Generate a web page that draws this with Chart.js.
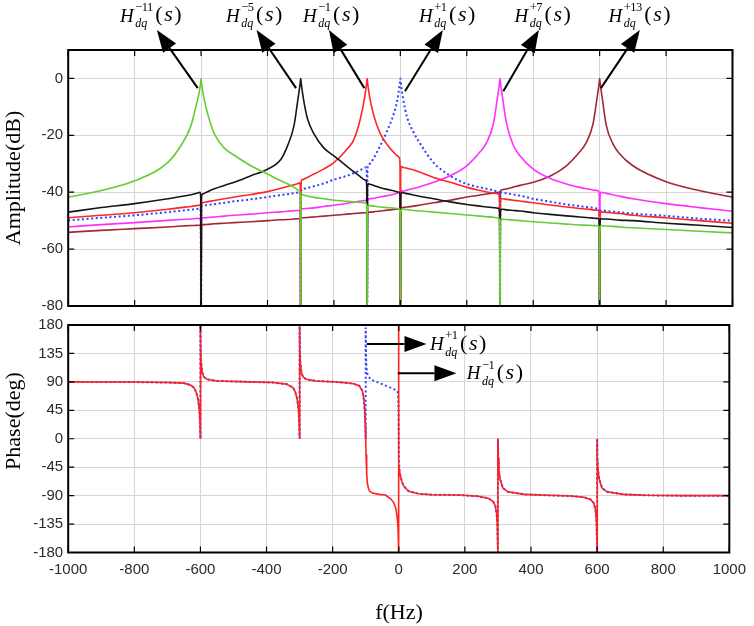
<!DOCTYPE html>
<html>
<head>
<meta charset="utf-8">
<script src="https://cdn.jsdelivr.net/npm/chart.js@4.4.1/dist/chart.umd.min.js"></script>
<style>
html, body { margin: 0; padding: 0; background: #fff; }
#wrap { position: relative; width: 754px; height: 626px; overflow: hidden; background: #fff; }
canvas { position: absolute; left: 0; }
#ampCanvas { top: 0; }
#phaseCanvas { top: 310px; }
.axt { position: absolute; font-family: 'Liberation Serif', 'Times New Roman', serif; font-size: 22px; line-height: 1; color: #000; white-space: nowrap; transform: translate(-50%, -50%); }
.axt.rot { transform: translate(-50%, -50%) rotate(-90deg); }
.lab { position: absolute; display: flex; align-items: flex-start; font-family: 'Liberation Serif', 'Times New Roman', serif; color: #000; line-height: 1; white-space: nowrap; }
.lab .h { font-size: 19px; font-style: italic; margin-top: 5.8px; }
.lab .st { display: flex; flex-direction: column; margin-left: 1.5px; }
.lab .sp { font-size: 12.5px; line-height: 1; margin-top: 1.2px; letter-spacing: -0.5px; }
.lab .sb { font-size: 12px; font-style: italic; line-height: 1; margin-top: 3.8px; }
.lab .pr { font-size: 22px; margin-top: 3.3px; margin-left: 2.5px; }
.lab .pr i { padding: 0 1.5px; }
</style>
</head>
<body>
<div id="wrap">
  <canvas id="ampCanvas" width="754" height="320"></canvas>
  <canvas id="phaseCanvas" width="754" height="316"></canvas>
  <div class="axt rot" style="left:12.6px; top:178px;">Amplitude(dB)</div>
  <div class="axt rot" style="left:12.6px; top:421px;">Phase(deg)</div>
  <div class="axt" style="left:399px; top:612px;">f(Hz)</div>
</div>
<script>
// frequency axis shared by the six amplitude curves
const freq = [
  -1000, -900, -800, -700, -660, -630, -620, -608, -603, -601,
  -600, -599, -597, -592, -580, -560, -530, -500, -450, -400,
  -360, -340, -320, -308, -303, -301, -300, -299, -297, -292,
  -280, -260, -230, -200, -160, -140, -120, -108, -103, -101,
  -100, -99, -97, -92, -80, -60, -40, -20, -8, -3,
  -1, 0, 1, 3, 8, 20, 40, 60, 100, 150,
  200, 240, 260, 280, 292, 297, 299, 300, 301, 303,
  308, 320, 340, 360, 400, 450, 500, 540, 560, 580,
  592, 597, 599, 600, 601, 603, 608, 620, 640, 660,
  700, 800, 900, 1000
];

// H_dq^-11 (peak at -600 Hz)
const ampGreen = [
  -41.7, -39.4, -36.0, -29.5, -23.5, -16.5, -12.0, -6.2, -3.0, -1.0,
  0, -1.0, -3.0, -6.5, -12.5, -19.5, -24.5, -27.0, -30.7, -33.6,
  -36.0, -37.0, -38.3, -39.2, -39.6, -42.0, -95, -43.0, -40.8, -41.0,
  -41.3, -41.8, -42.3, -42.8, -43.2, -43.4, -43.6, -43.7, -43.8, -46.0,
  -95, -46.5, -44.6, -44.7, -44.9, -45.2, -45.4, -45.6, -45.7, -45.8,
  -48.0, -95, -48.0, -45.9, -46.0, -46.1, -46.4, -46.6, -47.0, -47.5,
  -48.0, -48.4, -48.6, -48.8, -49.0, -49.1, -51.0, -95, -52.0, -49.5,
  -49.5, -49.6, -49.8, -50.0, -50.4, -50.8, -51.2, -51.5, -51.6, -51.7,
  -51.8, -51.8, -54.0, -95, -54.0, -51.8, -51.8, -51.9, -52.0, -52.2,
  -52.5, -53.1, -53.7, -54.3
];
// H_dq^-5 (peak at -300 Hz)
const ampBlack = [
  -47.0, -45.4, -44.0, -42.3, -41.5, -40.9, -40.6, -40.2, -40.0, -42.0,
  -95, -44.0, -40.8, -40.5, -39.8, -38.8, -37.6, -36.5, -34.2, -31.9,
  -28.5, -23.8, -16.5, -7.0, -3.0, -1.0, 0, -1.0, -3.0, -7.0,
  -14.0, -19.5, -24.5, -27.2, -31.0, -32.8, -34.6, -35.6, -36.0, -38.5,
  -95, -39.0, -37.0, -37.2, -37.6, -38.4, -39.0, -39.5, -39.9, -40.0,
  -42.0, -95, -42.0, -40.1, -40.2, -40.5, -41.0, -41.5, -42.3, -43.4,
  -44.3, -44.9, -45.2, -45.4, -45.6, -45.7, -48.0, -95, -48.5, -46.0,
  -46.0, -46.2, -46.4, -46.6, -47.2, -47.8, -48.3, -48.7, -48.9, -49.1,
  -49.2, -49.3, -51.5, -95, -51.5, -49.3, -49.4, -49.4, -49.6, -49.8,
  -50.0, -50.9, -51.6, -52.4
];
// H_dq^-1 (peak at -100 Hz)
const ampRed = [
  -49.0, -48.1, -47.2, -46.0, -45.4, -45.0, -44.8, -44.6, -44.5, -46.5,
  -95, -46.0, -43.7, -43.6, -43.3, -42.9, -42.3, -41.7, -40.8, -39.8,
  -38.6, -38.0, -37.4, -36.9, -36.7, -38.5, -95, -38.0, -35.7, -35.5,
  -34.8, -33.6, -31.8, -29.6, -24.8, -21.5, -14.0, -7.0, -3.0, -1.0,
  0, -1.0, -3.0, -6.8, -13.0, -19.5, -23.2, -26.0, -27.3, -27.8,
  -30.0, -95, -33.0, -31.0, -31.2, -31.6, -32.2, -33.0, -34.8, -36.5,
  -38.3, -39.4, -39.9, -40.3, -40.5, -40.6, -43.0, -95, -44.0, -42.3,
  -42.3, -42.5, -42.8, -43.1, -43.7, -44.5, -45.2, -45.7, -45.9, -46.2,
  -46.3, -46.4, -48.5, -95, -49.0, -47.0, -47.0, -47.1, -47.3, -47.5,
  -48.1, -49.0, -50.0, -50.9
];
// H_dq^+1 (peak at 0 Hz)
const ampBlue = [
  -49.9, -49.0, -48.1, -47.0, -46.5, -46.1, -46.0, -45.8, -45.7, -47.5,
  -95, -47.0, -44.8, -44.7, -44.5, -44.2, -43.7, -43.2, -42.5, -41.7,
  -41.0, -40.7, -40.3, -40.1, -40.0, -42.0, -95, -41.0, -38.9, -38.8,
  -38.5, -37.9, -36.9, -35.6, -34.2, -33.3, -32.2, -31.5, -31.2, -33.0,
  -95, -32.5, -30.6, -30.0, -28.0, -23.5, -18.5, -12.5, -7.0, -3.0,
  -1.0, 0, -1.0, -3.0, -7.0, -13.5, -19.0, -23.0, -29.6, -34.2,
  -37.1, -38.3, -38.8, -39.3, -39.7, -39.8, -42.0, -95, -42.5, -40.0,
  -40.1, -40.4, -40.8, -41.2, -42.3, -43.3, -44.3, -44.9, -45.2, -45.5,
  -45.7, -45.8, -48.0, -95, -48.5, -46.4, -46.4, -46.6, -46.8, -47.0,
  -47.5, -48.3, -49.3, -50.0
];
// H_dq^+7 (peak at 300 Hz)
const ampMagenta = [
  -52.2, -51.4, -50.7, -49.9, -49.6, -49.4, -49.3, -49.2, -49.2, -51.0,
  -95, -51.0, -49.0, -49.0, -48.9, -48.7, -48.4, -48.1, -47.7, -47.2,
  -46.9, -46.7, -46.5, -46.4, -46.4, -48.0, -95, -48.0, -45.9, -45.8,
  -45.7, -45.5, -45.0, -44.6, -43.9, -43.5, -43.1, -42.9, -42.8, -44.5,
  -95, -44.5, -42.4, -42.3, -42.1, -41.7, -41.2, -40.7, -40.3, -40.1,
  -42.0, -95, -41.5, -39.6, -39.6, -39.2, -38.7, -38.0, -36.5, -34.2,
  -30.7, -25.8, -22.5, -16.0, -7.0, -3.0, -1.0, 0, -1.0, -3.0,
  -7.0, -16.0, -23.5, -27.2, -31.9, -35.1, -37.1, -38.3, -38.8, -39.2,
  -39.4, -39.5, -42.0, -95, -42.0, -40.0, -40.1, -40.4, -40.9, -41.4,
  -42.3, -44.0, -45.4, -46.7
];
// H_dq^+13 (peak at 600 Hz)
const ampBrown = [
  -54.1, -53.4, -52.8, -52.2, -51.9, -51.7, -51.7, -51.6, -51.6, -53.5,
  -95, -53.5, -51.4, -51.4, -51.3, -51.1, -50.9, -50.7, -50.4, -50.0,
  -49.7, -49.6, -49.4, -49.3, -49.3, -51.0, -95, -51.0, -49.0, -49.0,
  -48.9, -48.7, -48.4, -48.1, -47.7, -47.5, -47.3, -47.2, -47.2, -49.0,
  -95, -49.0, -47.0, -47.0, -46.9, -46.6, -46.3, -46.1, -45.9, -45.8,
  -47.5, -95, -47.5, -45.5, -45.4, -45.2, -44.9, -44.5, -43.7, -42.8,
  -41.7, -41.0, -40.6, -40.3, -40.1, -40.0, -42.0, -95, -41.5, -39.2,
  -39.1, -38.8, -38.2, -37.6, -36.5, -34.4, -30.7, -25.8, -22.5, -16.0,
  -7.0, -3.0, -1.0, 0, -1.0, -3.0, -7.0, -16.5, -23.0, -26.5,
  -30.7, -36.3, -39.4, -41.7
];

// phase of H_dq^-1 (solid red)
const phaseFreqRed = [
  -1000, -800, -700, -650, -630, -620, -613, -607, -603, -601,
  -600, -600, -599, -598, -595, -590, -580, -550, -450, -380,
  -340, -320, -313, -307, -303, -301, -300, -300, -299, -298,
  -295, -290, -280, -250, -180, -140, -120, -110, -106, -103,
  -101, -100, -99, -97, -95, -92, -88, -80, -60, -40,
  -25, -15, -8, -4, -2, -1, 0, 0, 0, 2,
  5, 10, 15, 30, 60, 100, 180, 240, 270, 285,
  292, 296, 298, 299.5, 300, 300, 301, 303, 306, 315,
  330, 380, 450, 520, 560, 580, 590, 595, 598, 599.5,
  600, 600, 601, 603, 606, 615, 630, 680, 750, 850,
  1000
];
const phaseRed = [
  90, 89.7, 89, 88, 85, 81, 74, 62, 45, 22,
  0, 180, 145, 122, 106, 98, 94, 91.5, 90, 89,
  86.5, 81, 74, 62, 45, 22, 0, 178, 145, 122,
  106, 98, 94, 91.5, 89.5, 87.5, 84, 76, 64, 45,
  20, 0, -25, -55, -70, -78, -83, -86, -88, -89,
  -95, -101, -112, -128, -145, -160, -180, 180, -40, -50,
  -59, -69, -75, -83, -87, -88.5, -89, -91, -94, -99,
  -106, -118, -135, -165, -180, 0, -30, -50, -63, -78,
  -84, -88, -89.5, -90.5, -92.5, -96, -102, -112, -130, -160,
  -180, 0, -30, -50, -63, -78, -84, -88, -89.5, -90,
  -90
];
// phase of H_dq^+1 (dotted blue)
const phaseFreqBlue = [
  -1000, -800, -700, -650, -630, -620, -613, -607, -603, -601,
  -600, -600, -599, -598, -595, -590, -580, -550, -450, -380,
  -340, -320, -313, -307, -303, -301, -300, -300, -299, -298,
  -295, -290, -280, -250, -180, -140, -120, -110, -106, -103,
  -101, -100, -100, -99.5, -99, -98, -96, -92, -85, -75,
  -60, -40, -25, -15, -8, -4, -2, -1, -0.5, 0,
  0.5, 2, 5, 10, 15, 30, 60, 100, 180, 240,
  270, 285, 292, 296, 298, 299.5, 300, 300, 301, 303,
  306, 315, 330, 380, 450, 520, 560, 580, 590, 595,
  598, 599.5, 600, 600, 601, 603, 606, 615, 630, 680,
  750, 850, 1000
];
const phaseBlue = [
  90, 89.7, 89, 88, 85, 81, 74, 62, 45, 22,
  0, 180, 145, 122, 106, 98, 94, 91.5, 90, 89,
  86.5, 81, 74, 62, 45, 22, 0, 178, 145, 122,
  106, 98, 94, 91.5, 89.5, 87.5, 84, 76, 64, 45,
  20, 0, 176, 150, 130, 115, 104, 99, 94, 91.5,
  88.5, 84, 81, 78.5, 77, 75, 70, 55, 35, 0,
  -30, -50, -59, -69, -75, -83, -87, -88.5, -89, -91,
  -94, -99, -106, -118, -135, -165, -180, 0, -30, -50,
  -63, -78, -84, -88, -89.5, -90.5, -92.5, -96, -102, -112,
  -130, -160, -180, 0, -30, -50, -63, -78, -84, -88,
  -89.5, -90, -90
];

const freqTicks = [-1000, -800, -600, -400, -200, 0, 200, 400, 600, 800, 1000];
const ampTicks = [-80, -60, -40, -20, 0];
const phaseTicks = [-180, -135, -90, -45, 0, 45, 90, 135, 180];

// annotation arrows: [freq, value] at the tail and at the head
const ampArrows = [
  [[-610, -3.4], [-733, 17]],
  [[-314, -3.4], [-433, 17]],
  [[-108.5, -3.4], [-215, 17]],
  [[14, -4.5], [128, 17]],
  [[310, -4.5], [417, 17]],
  [[604, -3.4], [721, 17]]
];
const phaseArrows = [
  [[-96.5, 150], [84, 150]],
  [[-3, 103.6], [174.5, 103.6]]
];

const pts = (xs, ys) => xs.map((x, i) => ({ x: x, y: ys[i] }));

function frameTicks(chart) {
  const { ctx, chartArea: a, scales: { x, y } } = chart;
  ctx.save();
  ctx.strokeStyle = '#000';
  ctx.lineWidth = 1.2;
  ctx.beginPath();
  x.ticks.forEach(t => {
    const px = x.getPixelForValue(t.value);
    ctx.moveTo(px, a.top); ctx.lineTo(px, a.top + 6);
    ctx.moveTo(px, a.bottom); ctx.lineTo(px, a.bottom - 6);
  });
  y.ticks.forEach(t => {
    const py = y.getPixelForValue(t.value);
    ctx.moveTo(a.left, py); ctx.lineTo(a.left + 6, py);
    ctx.moveTo(a.right, py); ctx.lineTo(a.right - 6, py);
  });
  ctx.stroke();
  ctx.lineWidth = 2;
  ctx.strokeRect(a.left, a.top, a.right - a.left, a.bottom - a.top);
  ctx.restore();
}

function drawArrows(chart, list) {
  const { ctx, scales: { x, y } } = chart;
  list.forEach(([from, to]) => {
    const x0 = x.getPixelForValue(from[0]), y0 = y.getPixelForValue(from[1]);
    const x1 = x.getPixelForValue(to[0]), y1 = y.getPixelForValue(to[1]);
    const ang = Math.atan2(y1 - y0, x1 - x0);
    const L = 22, W = 8;
    const bx = x1 - L * Math.cos(ang), by = y1 - L * Math.sin(ang);
    ctx.save();
    ctx.strokeStyle = '#000';
    ctx.fillStyle = '#000';
    ctx.lineWidth = 2;
    ctx.beginPath(); ctx.moveTo(x0, y0); ctx.lineTo(bx, by); ctx.stroke();
    ctx.beginPath();
    ctx.moveTo(x1, y1);
    ctx.lineTo(bx + W * Math.sin(ang), by - W * Math.cos(ang));
    ctx.lineTo(bx - W * Math.sin(ang), by + W * Math.cos(ang));
    ctx.closePath();
    ctx.fill();
    ctx.restore();
  });
}

const gridCfg = { color: '#d6d6d6', lineWidth: 1, drawTicks: false };
const tickFont = { family: "'Liberation Sans', Arial, sans-serif", size: 15 };

function lineSet(data, color, dotted, smooth) {
  return {
    data: data,
    borderColor: color,
    borderWidth: dotted ? 2 : 1.6,
    borderDash: dotted ? [2, 2.6] : [],
    pointRadius: 0,
    tension: 0,
    cubicInterpolationMode: smooth ? 'monotone' : 'default',
    fill: false,
    clip: 0
  };
}

new Chart(document.getElementById('ampCanvas'), {
  type: 'line',
  data: {
    datasets: [
      lineSet(pts(freq, ampGreen), '#66cc33', false, true),
      lineSet(pts(freq, ampBlack), '#161616', false, true),
      lineSet(pts(freq, ampRed), '#ff2626', false, true),
      lineSet(pts(freq, ampBlue), '#2f3fff', true, true),
      lineSet(pts(freq, ampMagenta), '#ff30ff', false, true),
      lineSet(pts(freq, ampBrown), '#a02838', false, true)
    ]
  },
  options: {
    responsive: false,
    animation: false,
    layout: { padding: { top: 50, right: 21.5, bottom: 12, left: 0 } },
    plugins: { legend: { display: false }, tooltip: { enabled: false } },
    scales: {
      x: {
        type: 'linear', min: -1000, max: 1000,
        afterBuildTicks: s => { s.ticks = freqTicks.map(v => ({ value: v })); },
        afterFit: s => { s.height = 0; },
        ticks: { display: false },
        grid: gridCfg,
        border: { display: false }
      },
      y: {
        min: -80, max: 10,
        afterBuildTicks: s => { s.ticks = ampTicks.map(v => ({ value: v })); },
        afterFit: s => { s.width = 68.2; },
        ticks: { font: tickFont, color: '#2b2b2b', padding: 5, callback: v => String(v) },
        grid: gridCfg,
        border: { display: false }
      }
    }
  },
  plugins: [{
    id: 'ampDeco',
    afterDatasetsDraw(chart) { frameTicks(chart); },
    afterDraw(chart) { drawArrows(chart, ampArrows); }
  }]
});

new Chart(document.getElementById('phaseCanvas'), {
  type: 'line',
  data: {
    datasets: [
      lineSet(pts(phaseFreqRed, phaseRed), '#ff2020', false, false),
      lineSet(pts(phaseFreqBlue, phaseBlue), '#2f3fff', true, false)
    ]
  },
  options: {
    responsive: false,
    animation: false,
    layout: { padding: { top: 15, right: 21.5, bottom: 0, left: 0 } },
    plugins: { legend: { display: false }, tooltip: { enabled: false } },
    scales: {
      x: {
        type: 'linear', min: -1000, max: 1000,
        afterBuildTicks: s => { s.ticks = freqTicks.map(v => ({ value: v })); },
        afterFit: s => { s.height = 73.5; },
        ticks: { font: tickFont, color: '#2b2b2b', padding: 8, maxRotation: 0, callback: v => String(v) },
        grid: gridCfg,
        border: { display: false }
      },
      y: {
        min: -180, max: 180,
        afterBuildTicks: s => { s.ticks = phaseTicks.map(v => ({ value: v })); },
        afterFit: s => { s.width = 68.2; },
        ticks: { font: tickFont, color: '#2b2b2b', padding: 5, callback: v => String(v) },
        grid: gridCfg,
        border: { display: false }
      }
    }
  },
  plugins: [{
    id: 'phaseDeco',
    afterDatasetsDraw(chart) { frameTicks(chart); },
    afterDraw(chart) { drawArrows(chart, phaseArrows); }
  }]
});

// transfer-function labels H_dq^h(s)
const labelSup = ['−11', '−5', '−1', '+1', '+7', '+13', '+1', '−1'];
const labelPos = [[120, 0], [226, 0], [303, 0], [419, 0], [514.5, 0], [608.5, 0], [430, 328.3], [466.7, 357.6]];
const wrap = document.getElementById('wrap');
labelSup.forEach((s, i) => {
  const d = document.createElement('div');
  d.className = 'lab';
  d.style.left = labelPos[i][0] + 'px';
  d.style.top = labelPos[i][1] + 'px';
  d.innerHTML = '<span class="h">H</span><span class="st"><span class="sp">' + s +
    '</span><span class="sb">dq</span></span><span class="pr">(<i>s</i>)</span>';
  wrap.appendChild(d);
});
</script>
</body>
</html>
